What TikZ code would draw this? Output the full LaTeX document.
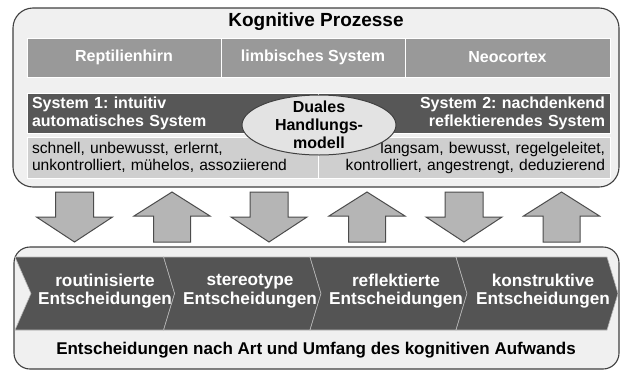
\documentclass[tikz,border=0pt]{standalone}
\usepackage{fontspec}
\setmainfont{Liberation Sans}
\usetikzlibrary{shapes.geometric}
\frenchspacing
\definecolor{framefill}{gray}{0.94}
\definecolor{framedraw}{gray}{0.25}
\definecolor{headgray}{gray}{0.6}
\definecolor{darkband}{gray}{0.34}
\definecolor{lightband}{gray}{0.81}
\definecolor{ellfill}{gray}{0.89}
\definecolor{arrowfill}{gray}{0.71}
\definecolor{chevfill}{gray}{0.33}
\tikzset{
  frame/.style={draw=framedraw, fill=framefill, line width=1.1pt},
  headcell/.style={draw=white, line width=1pt, fill=headgray, text=white,
    minimum height=39pt, inner sep=0pt, font=\bfseries\fontsize{16}{18}\selectfont},
  darkcell/.style={draw=white, line width=1pt, fill=darkband, text=white,
    minimum height=40pt, inner xsep=5pt, inner ysep=0pt, font=\bfseries\fontsize{16}{18}\selectfont},
  lightcell/.style={draw=white, line width=1pt, fill=lightband, text=black,
    minimum height=41pt, inner xsep=5pt, inner ysep=0pt, font=\fontsize{15.6}{17}\selectfont},
  dualell/.style={ellipse, draw=framedraw, fill=ellfill, line width=1pt,
    minimum width=154pt, minimum height=60pt, inner sep=0pt},
  dualtext/.style={align=center, inner sep=0pt, font=\bfseries\fontsize{16}{18}\selectfont},
  bigarrow/.style={draw=gray!60!black, fill=arrowfill, line width=1pt},
  chevron/.style={draw=gray!55, fill=chevfill, line width=0.6pt},
  chevtext/.style={text=white, align=center, inner sep=0pt, font=\bfseries\fontsize{17.2}{18.5}\selectfont},
  bigtitle/.style={inner sep=0pt, font=\bfseries\fontsize{19}{20}\selectfont},
}
\begin{document}
\begin{tikzpicture}[x=1pt, y=-1pt]
\useasboundingbox (0,0) rectangle (621,370);
\draw[frame, rounded corners=20pt] (13,8) rectangle (619,187);
\node[bigtitle] (titel) at (316,22) {Kognitive Prozesse};
\node[headcell, minimum width=194pt] (reptil) at (124,57.5) {Reptilienhirn};
\node[headcell, minimum width=184pt] (limbisch) at (313,57.5) {limbisches System};
\node[headcell, minimum width=205pt] (neo) at (507.5,57.5) {Neocortex};
\node[darkcell, text width=281pt, align=left] (sysA) at (172.5,113) {System 1: intuitiv\\automatisches System};
\node[darkcell, text width=282pt, align=right] (sysB) at (464,113) {System 2: nachdenkend\\reflektierendes System};
\node[lightcell, text width=281pt, align=left] (merkA) at (172.5,157.5) {schnell, unbewusst, erlernt,\\unkontrolliert, mühelos, assoziierend};
\node[lightcell, text width=282pt, align=right] (merkB) at (464,157.5) {langsam, bewusst, regelgeleitet,\\kontrolliert, angestrengt, deduzierend};
\node[dualell] (dual) at (319,125) {};
\node[dualtext] (dualtxt) at (dual) {Duales\\Handlungs-\\modell};
\foreach \x in {74.5,269,464}
  \draw[bigarrow, shift={(\x,0)}] (-19,192) -- (19,192) -- (19,217) -- (38,217) -- (0,242) -- (-38,217) -- (-19,217) -- cycle;
\foreach \x in {172,367,561.5}
  \draw[bigarrow, shift={(\x,0)}] (0,192) -- (38,216) -- (18.5,216) -- (18.5,242) -- (-18.5,242) -- (-18.5,216) -- (-38,216) -- cycle;
\draw[frame, rounded corners=16pt] (14,247) rectangle (619,369);
\foreach \i/\l/\r/\n/\c/\t in {1/15/163.6/16/105/routinisierte, 2/163.6/310/11/250/stereotype, 3/310/456/11/396/reflektierte, 4/456/607/11/543/konstruktive}{
  \draw[chevron] (\l,257) -- (\r,257) -- (\r+11,293.5) -- (\r,330) -- (\l,330) -- (\l+\n,293.5) -- cycle;
  \node[chevtext] (chev\i) at (\c,291) {\t\\Entscheidungen};
}
\node[bigtitle, font=\bfseries\fontsize{17}{18}\selectfont] (aufwand) at (316,350) {Entscheidungen nach Art und Umfang des kognitiven Aufwands};
\end{tikzpicture}
\end{document}
